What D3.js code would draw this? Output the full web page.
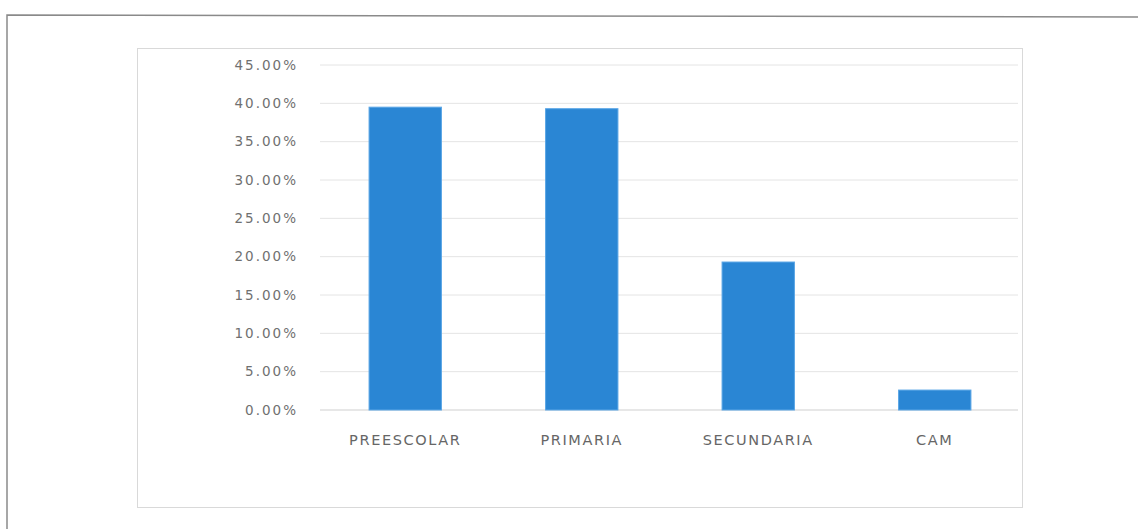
<!DOCTYPE html>
<html><head><meta charset="utf-8">
<script src="https://cdn.jsdelivr.net/npm/d3@7"></script>
<style>body{margin:0;background:#fff}svg{display:block}</style>
</head><body>
<svg id="c" width="1138" height="529"></svg>
<script>
const categories = ["PREESCOLAR", "PRIMARIA", "SECUNDARIA", "CAM"];
const values = [0.395, 0.393, 0.193, 0.026];
const yTicks = [0, 0.05, 0.10, 0.15, 0.20, 0.25, 0.30, 0.35, 0.40, 0.45];

const svg = d3.select("#c");
// outer frame
svg.append("path").attr("d", "M7,529 L7,15 L1138,17").attr("fill","none").attr("stroke","#8a8a8a").attr("stroke-width",1.5);
// chart area border
svg.append("rect").attr("x",137.5).attr("y",48.5).attr("width",885).attr("height",459).attr("fill","#fff").attr("stroke","#d9d9d9");

const x = d3.scaleBand().domain(categories).range([317, 1023]).paddingInner(0.59).paddingOuter(0.295);
const y = d3.scaleLinear().domain([0, 0.45]).range([410, 65]);

const g = svg.append("g");
g.selectAll("line.grid").data(yTicks).join("line")
  .attr("x1", 320).attr("x2", 1018)
  .attr("y1", d => y(d)).attr("y2", d => y(d))
  .attr("stroke", d => d === 0 ? "#cfcfcf" : "#e4e4e4").attr("stroke-width", 1);

const yAxis = d3.axisLeft(y).tickValues(yTicks).tickFormat(d3.format(".2%")).tickSize(0).tickPadding(0);
const ya = svg.append("g").attr("transform", "translate(298,0)").call(yAxis);
ya.select(".domain").remove();
ya.selectAll("text").attr("fill","#707070").style("font-family","DejaVu Sans, sans-serif")
  .style("font-size","13.5px").style("letter-spacing","2px");

g.selectAll("rect.bar").data(values).join("rect")
  .attr("x", (d,i) => x(categories[i]))
  .attr("width", x.bandwidth())
  .attr("y", d => y(d))
  .attr("height", d => y(0) - y(d))
  .attr("fill", "#2a86d4").attr("stroke","#5aa6e6").attr("stroke-width",1);

const xAxis = d3.axisBottom(x).tickSize(0).tickPadding(0);
const xa = svg.append("g").attr("transform", "translate(0,435)").call(xAxis);
xa.select(".domain").remove();
xa.selectAll("text").attr("fill","#666").style("font-family","DejaVu Sans, sans-serif")
  .style("font-size","14.5px").style("letter-spacing","1.6px");
</script>
</body></html>
